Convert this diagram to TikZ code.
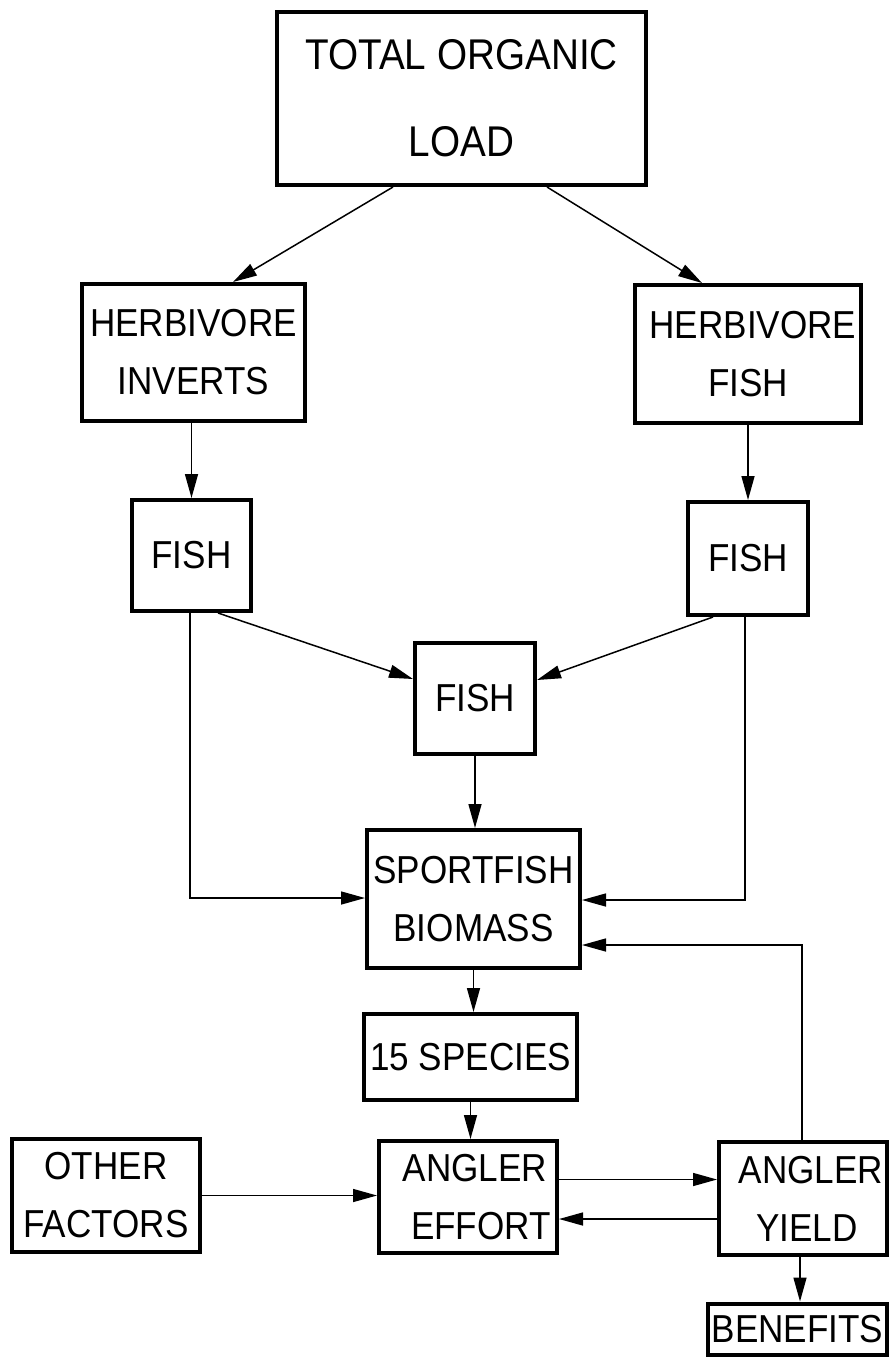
\documentclass[tikz,border=0pt]{standalone}
\usepackage{fontspec}
\setmainfont{Liberation Sans}[FakeStretch=0.9]
\usetikzlibrary{arrows.meta,calc}
% shift one centred line sideways without changing its width
\newcommand\nudge[2]{\hspace*{#1}#2\hspace*{-#1}}
\begin{document}
\begin{tikzpicture}[x=0.5pt,y=-0.5pt,
  box/.style={draw, line width=2pt, inner sep=0pt, align=center,
    font=\fontsize{19.5}{29}\selectfont},
  flow/.style={line width=0.75pt, -{Triangle[length=12pt,width=6.5pt]}}]
\useasboundingbox (0,0) rectangle (891,1359);

% boxes (centre in pixel units, sizes in pt)
\node[box, minimum width=184.5pt, minimum height=86.5pt,
      font=\fontsize{21.5}{43.5}\selectfont] (tol) at (461.5,98.5) {TOTAL ORGANIC\\LOAD};
\node[box, minimum width=111.5pt, minimum height=68.5pt] (hinv) at (193.5,352.5) {HERBIVORE\\INVERTS};
\node[box, minimum width=113pt, minimum height=69pt] (hfish) at (748,354) {\nudge{2.5pt}{HERBIVORE}\\FISH};
\node[box, minimum width=59.5pt, minimum height=55.5pt] (fishL) at (191.5,555.5) {FISH};
\node[box, minimum width=60pt, minimum height=56.5pt] (fishR) at (748,558.5) {FISH};
\node[box, minimum width=60pt, minimum height=55.5pt] (fishM) at (475,698.5) {FISH};
\node[box, minimum width=106.5pt, minimum height=69pt] (sport) at (473.5,899) {SPORTFISH\\BIOMASS};
\node[box, minimum width=106.5pt, minimum height=43pt] (spec) at (470.5,1057) {15 SPECIES};
\node[box, minimum width=94pt, minimum height=56.5pt] (other) at (106,1195.5) {OTHER\\FACTORS};
\node[box, minimum width=89pt, minimum height=56pt] (effort) at (468,1197) {\nudge{3.5pt}{ANGLER}\\\nudge{6.5pt}{EFFORT}};
\node[box, minimum width=84pt, minimum height=56.5pt] (yield) at (803,1198.5) {\nudge{4pt}{ANGLER}\\\nudge{2pt}{YIELD}};
\node[box, minimum width=89.5pt, minimum height=25.5pt] (ben) at (797.5,1329) {BENEFITS};

% connector end points off the node centres
\coordinate (tolL) at ($(tol.south)+(-68.5,0)$);
\coordinate (tolR) at ($(tol.south)+(85.5,0)$);
\coordinate (effOut) at ($(effort.east)+(0,-17.5)$);
\coordinate (yldOut) at ($(yield.west)+(0,20.5)$);
\coordinate (yldTop) at ($(yield.north)+(-1,0)$);
\coordinate (yldBot) at ($(yield.south)+(-3,0)$);

% connectors
\draw[flow] (tolL) -- ($(hinv.north)+(39.5,0)$);
\draw[flow] (tolR) -- ($(hfish.north)+(-46,0)$);
\draw[flow] (fishL.north |- hinv.south) -- (fishL.north);
\draw[flow] (fishR.north |- hfish.south) -- (fishR.north);
\draw[flow] ($(fishL.south)+(26.5,0)$) -- ($(fishM.west)+(0,-19.5)$);
\draw[flow] ($(fishR.south)+(-35,0)$) -- ($(fishM.east)+(0,-18.5)$);
\draw[flow] (fishM.south) -- (fishM.south |- sport.north);
\draw[flow] ($(fishL.south)+(-1.5,0)$) |- ($(sport.west)+(0,-1)$);
\draw[flow] ($(fishR.south)+(-3,0)$) |- ($(sport.east)+(0,1)$);
\draw[flow] (sport.south) -- (sport.south |- spec.north);
\draw[flow] (spec.south) -- (spec.south |- effort.north);
\draw[flow] (other.east) -- (other.east -| effort.west);
\draw[flow] (effOut) -- (effOut -| yield.west);
\draw[flow] (yldOut) -- (yldOut -| effort.east);
\draw[flow] (yldTop) |- ($(sport.east)+(0,46)$);
\draw[flow] (yldBot) -- (yldBot |- ben.north);
\end{tikzpicture}
\end{document}
